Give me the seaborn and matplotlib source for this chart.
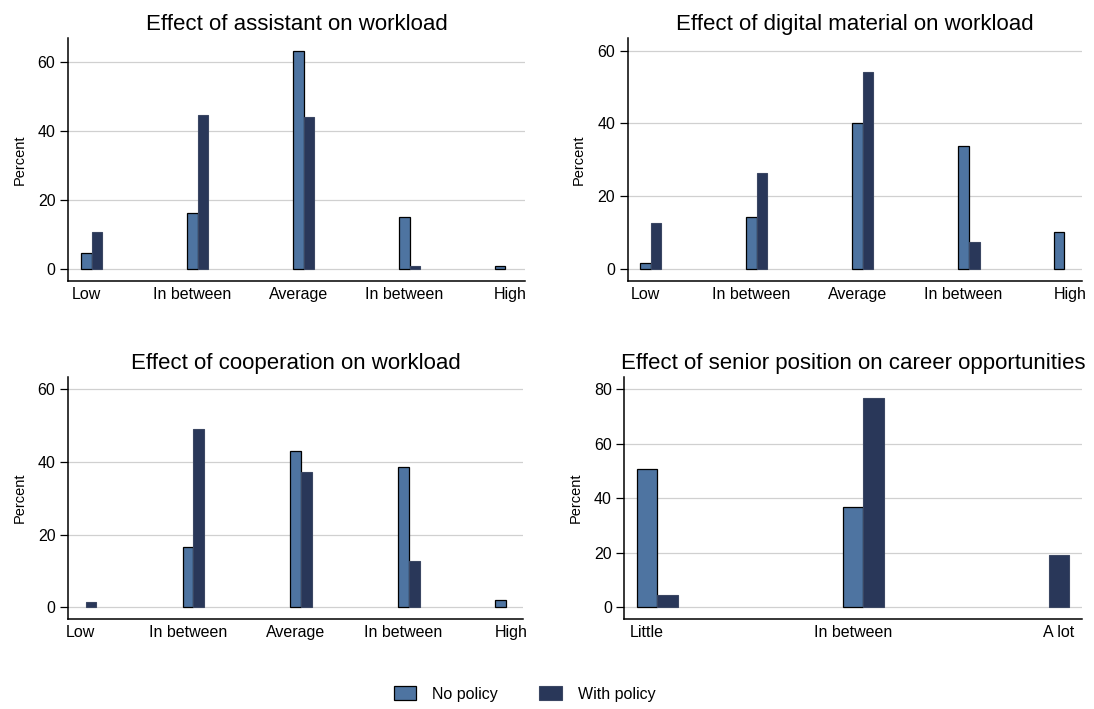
import numpy as np
import pandas as pd
import matplotlib
matplotlib.use("Agg")
import matplotlib.pyplot as plt
import seaborn as sns
from matplotlib.patches import Patch
from matplotlib.colors import to_rgba

# ---- data (percent of respondents) ----
groups = ["No policy", "With policy"]
scale5 = ["Low", "In between", "Average", "In between", "High"]
scale3 = ["Little", "In between", "A lot"]

titles = [
    "Effect of assistant on workload",
    "Effect of digital material on workload",
    "Effect of cooperation on workload",
    "Effect of senior position on career opportunities",
]

assistant_no = [4.7, 16.2, 63.4, 15.0, 1.0]
assistant_with = [10.7, 44.6, 44.0, 1.0, 0.0]

digital_no = [1.7, 14.4, 40.0, 33.9, 10.1]
digital_with = [12.6, 26.5, 54.1, 7.4, 0.0]

cooperation_no = [0.0, 16.5, 43.1, 38.7, 1.9]
cooperation_with = [1.5, 49.0, 37.1, 12.8, 0.0]

senior_no = [50.8, 36.6, 0.0]
senior_with = [4.4, 76.6, 19.3]

yticks_workload = [0, 20, 40, 60]
yticks_career = [0, 20, 40, 60, 80]

panels = [
    (titles[0], scale5, assistant_no, assistant_with, yticks_workload),
    (titles[1], scale5, digital_no, digital_with, yticks_workload),
    (titles[2], scale5, cooperation_no, cooperation_with, yticks_workload),
    (titles[3], scale3, senior_no, senior_with, yticks_career),
]

# ---- style ----
light = "#4e74a1"
dark = "#293759"
dark_edge = "#3b4763"
palette = {groups[0]: light, groups[1]: dark}

sns.set_style("white")
plt.rcParams["font.family"] = ["Liberation Sans", "DejaVu Sans"]
for key in ["text.color", "axes.labelcolor", "xtick.color", "ytick.color"]:
    plt.rcParams[key] = "black"

W, H = 1094, 709
fig = plt.figure(figsize=(W / 100, H / 100), dpi=100)

# axes boxes in pixels: left, top, right, bottom
boxes = [
    (68, 38, 525, 281),
    (627.7, 38, 1081.7, 281),
    (68, 377, 523, 619),
    (624.3, 377, 1082, 619),
]
xlims = [(-0.175, 4.137), (-0.166, 4.113), (-0.114, 4.109), (-0.110, 2.112)]
ylims = [(-3.48, 67.05), (-3.3, 63.5), (-3.2, 63.3), (-4.3, 84.4)]

bar_w = 0.1

for (title, cats, no_vals, with_vals, yt), box, xl, yl in zip(panels, boxes, xlims, ylims):
    l, t, r, b = box
    ax = fig.add_axes([l / W, 1 - b / H, (r - l) / W, (b - t) / H])

    last = len(cats) - 1
    rows = []
    for g, vals in zip(groups, [no_vals, with_vals]):
        for i, v in enumerate(vals):
            if v <= 0:
                continue
            pos = i + (bar_w if g == groups[1] else 0.0) - (bar_w if i == last else 0.0)
            rows.append({"x": round(pos, 3), "pct": v, "group": g})
    df = pd.DataFrame(rows)

    sns.barplot(
        data=df, x="x", y="pct", hue="group", hue_order=groups,
        palette=palette, saturation=1, native_scale=True, dodge=False,
        width=1.0, errorbar=None, legend=False, edgecolor="black",
        linewidth=0.9, ax=ax, zorder=3,
    )
    dark_rgba = to_rgba(dark)
    for p in ax.patches:
        if np.allclose(p.get_facecolor(), dark_rgba, atol=0.02):
            p.set_edgecolor(dark_edge)
            p.set_linewidth(0.8)

    ax.set_xlim(*xl)
    ax.set_ylim(*yl)
    ax.set_xticks(range(len(cats)))
    ax.set_xticklabels(cats)
    ax.set_yticks(yt)
    ax.set_xlabel("")
    ax.set_ylabel("Percent", fontsize=10.5, labelpad=8)
    ax.set_title(title, fontsize=16, pad=6)

    ax.yaxis.grid(True, color="#d0d0d0", linewidth=0.9, zorder=0)
    ax.xaxis.grid(False)
    ax.set_axisbelow(True)

    for s in ["top", "right"]:
        ax.spines[s].set_visible(False)
    for s in ["left", "bottom"]:
        ax.spines[s].set_color("black")
        ax.spines[s].set_linewidth(1.1)

    ax.tick_params(axis="y", length=6, width=0.9, color="black", labelsize=11.5, pad=3, left=True)
    ax.tick_params(axis="x", length=0, labelsize=11.5, pad=4)

handles = [
    Patch(facecolor=light, edgecolor="black", linewidth=0.9, label=groups[0]),
    Patch(facecolor=dark, edgecolor=dark_edge, linewidth=0.8, label=groups[1]),
]
fig.legend(
    handles=handles, loc="center", bbox_to_anchor=(524.5 / W, 1 - 694 / H),
    ncol=2, frameon=False, fontsize=11.5, handlelength=1.4, handleheight=1.0,
    handletextpad=1.0, columnspacing=2.6,
)

fig.savefig("out.png", dpi=100, facecolor="white")
